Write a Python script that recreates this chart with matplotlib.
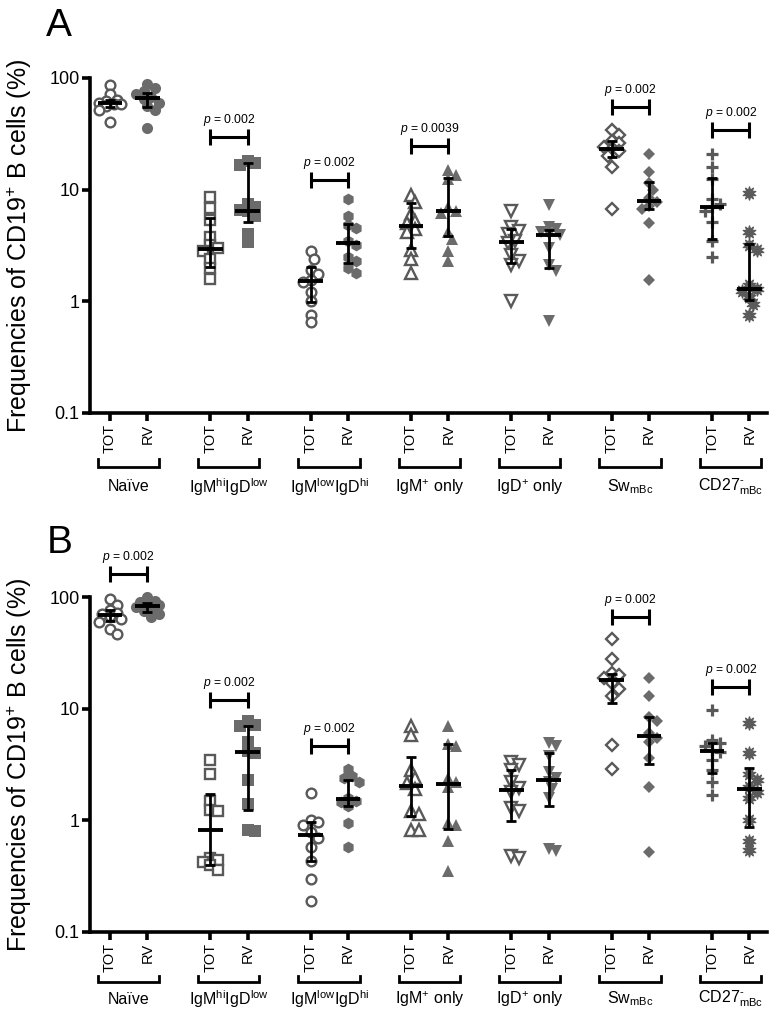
import numpy as np
import matplotlib
matplotlib.use('Agg')
import matplotlib.pyplot as plt
from matplotlib.transforms import blended_transform_factory

plt.rcParams['font.family'] = ['Liberation Sans', 'DejaVu Sans']
plt.rcParams['mathtext.fontset'] = 'custom'
plt.rcParams['mathtext.rm'] = 'Liberation Sans'
plt.rcParams['mathtext.it'] = 'Liberation Sans:italic'
plt.rcParams['mathtext.bf'] = 'Liberation Sans:bold'

# ---------------- data ----------------
groups = ['Naïve', r'IgM$^{\rm hi}$IgD$^{\rm low}$', r'IgM$^{\rm low}$IgD$^{\rm hi}$',
          r'IgM$^{+}$ only', r'IgD$^{+}$ only', r'Sw$_{\rm mBc}$', r'CD27$^{\text{-}}_{\rm mBc}$']
conditions = ['TOT', 'RV']

# Panel A
a_tot_values = [
    [86, 72, 64, 62, 60, 59, 58, 56, 52, 40],
    [8.6, 6.8, 5.4, 3.8, 3.2, 3.0, 2.8, 2.4, 2.0, 1.6],
    [2.8, 2.4, 1.9, 1.75, 1.55, 1.5, 1.2, 1.0, 0.76, 0.65],
    [9.0, 7.8, 6.0, 5.2, 5.0, 4.4, 4.2, 2.9, 2.4, 1.8],
    [6.5, 4.6, 4.3, 4.0, 3.5, 3.3, 2.6, 2.3, 2.1, 1.0],
    [34, 31, 27, 26, 24, 23, 22, 20, 16, 6.7],
    [21, 16, 12.5, 8.3, 7.5, 7.0, 6.5, 5.1, 3.5, 2.5],
]
a_rv_values = [
    [88, 82, 76, 72, 68, 65, 60, 56, 52, 36],
    [18, 17.5, 16.5, 7.5, 7.0, 6.6, 6.4, 5.8, 4.0, 3.4],
    [8.2, 5.8, 4.8, 4.5, 3.5, 3.2, 2.5, 2.3, 2.0, 1.8],
    [15, 13.5, 12.5, 7.0, 6.5, 6.2, 4.2, 3.6, 2.8, 2.3],
    [7.3, 4.6, 4.4, 4.2, 4.0, 3.9, 3.0, 2.1, 1.85, 0.66],
    [21, 14.5, 11.5, 10, 8.5, 7.8, 7.2, 6.7, 5.0, 1.55],
    [9.3, 4.2, 3.2, 2.9, 1.4, 1.3, 1.25, 1.1, 0.95, 0.76],
]
a_tot_median = [59.7, 2.93, 1.53, 4.73, 3.4, 23.1, 6.96]
a_tot_q1 = [55, 2.05, 0.98, 3.0, 2.2, 19.8, 3.6]
a_tot_q3 = [63, 5.56, 2.05, 7.55, 4.4, 27, 12.6]
a_rv_median = [66.6, 6.49, 3.36, 6.45, 3.93, 7.98, 1.30]
a_rv_q1 = [55, 5.1, 2.22, 3.85, 1.98, 6.7, 1.03]
a_rv_q3 = [73, 17.2, 4.88, 12.6, 4.36, 11.6, 3.25]
a_sig_groups = [1, 2, 3, 5, 6]
a_sig_y = [29.6, 12.2, 24.6, 55, 34.2]
a_sig_p = ['0.002', '0.002', '0.0039', '0.002', '0.002']

# Panel B
b_tot_values = [
    [95, 85, 76, 72, 70, 68, 63, 60, 52, 47],
    [3.5, 2.6, 1.5, 1.25, 1.2, 0.46, 0.44, 0.42, 0.40, 0.36],
    [1.75, 1.0, 0.97, 0.9, 0.78, 0.70, 0.58, 0.43, 0.30, 0.19],
    [7.0, 5.8, 2.8, 2.4, 2.15, 1.9, 1.2, 1.15, 0.82, 0.82],
    [3.3, 3.1, 2.8, 2.2, 1.95, 1.8, 1.3, 1.2, 0.48, 0.46],
    [42, 28, 21, 20, 19, 17, 15, 13, 4.7, 2.9],
    [9.7, 5.2, 4.9, 4.6, 4.3, 4.1, 3.5, 2.8, 2.2, 1.7],
]
b_rv_values = [
    [99, 92, 90, 87, 84, 82, 80, 75, 70, 66],
    [7.8, 7.2, 7.0, 5.0, 4.2, 4.0, 2.3, 1.4, 0.82, 0.80],
    [2.9, 2.5, 2.4, 2.2, 1.6, 1.5, 1.45, 1.35, 0.95, 0.58],
    [7.0, 4.8, 4.6, 2.4, 2.2, 2.0, 0.95, 0.9, 0.65, 0.35],
    [4.9, 4.6, 3.8, 2.7, 2.4, 2.2, 1.9, 1.6, 0.55, 0.53],
    [19, 13, 8.5, 7.8, 6.0, 5.5, 5.0, 3.6, 2.0, 0.52],
    [7.5, 4.0, 2.6, 2.3, 2.0, 1.8, 1.6, 1.0, 0.65, 0.54],
]
b_tot_median = [69, 0.82, 0.74, 2.03, 1.87, 18.1, 4.2]
b_tot_q1 = [61.4, 0.40, 0.43, 1.09, 0.99, 11.3, 2.63]
b_tot_q3 = [76, 1.72, 0.97, 3.66, 2.83, 20.5, 4.9]
b_rv_median = [83, 4.12, 1.55, 2.12, 2.3, 5.7, 1.9]
b_rv_q1 = [73.9, 1.24, 1.34, 0.83, 1.34, 3.2, 0.88]
b_rv_q3 = [87.8, 7.0, 2.29, 4.8, 4.0, 8.5, 2.93]
b_sig_groups = [0, 1, 2, 5, 6]
b_sig_y = [160, 12.0, 4.64, 66.6, 15.7]
b_sig_p = ['0.002', '0.002', '0.002', '0.002', '0.002']

ytick_vals = [0.1, 1, 10, 100]
ytick_labels = ['0.1', '1', '10', '100']

# ---------------- styles ----------------
EDGE = '#595959'
FILL = '#6b6b6b'
tot_styles = [
    dict(marker='o', ms=7, mfc='white', mec=EDGE, mew=1.7),
    dict(marker='s', ms=7, mfc='white', mec=EDGE, mew=1.7),
    dict(marker='o', ms=7, mfc='white', mec=EDGE, mew=1.7),
    dict(marker='^', ms=8, mfc='white', mec=EDGE, mew=1.7),
    dict(marker='v', ms=8, mfc='white', mec=EDGE, mew=1.7),
    dict(marker='D', ms=6, mfc='white', mec=EDGE, mew=1.7),
    dict(marker='+', ms=9, mfc=EDGE, mec=EDGE, mew=2.3),
]
rv_styles = [
    dict(marker='o', ms=8, mfc=FILL, mec=FILL, mew=0),
    dict(marker='s', ms=8, mfc=FILL, mec=FILL, mew=0),
    dict(marker='h', ms=8.5, mfc=FILL, mec=FILL, mew=0),
    dict(marker='^', ms=9, mfc=FILL, mec=FILL, mew=0),
    dict(marker='v', ms=9, mfc=FILL, mec=FILL, mew=0),
    dict(marker='D', ms=6.5, mfc=FILL, mec=FILL, mew=0),
    dict(marker=(10, 1, 0), ms=10, mfc='#5a5a5a', mec='#5a5a5a', mew=0.8),
]

W, H = 782, 1015
DPI = 100
fig = plt.figure(figsize=(W / DPI, H / DPI), dpi=DPI)

GSTEP = 2.69
XLIM = (-0.536, 17.61)

panels = [
    dict(rect=(90, 78, 767, 413), tv=a_tot_values, rv=a_rv_values,
         tm=a_tot_median, tq1=a_tot_q1, tq3=a_tot_q3,
         rm=a_rv_median, rq1=a_rv_q1, rq3=a_rv_q3,
         sg=a_sig_groups, sy=a_sig_y, sp=a_sig_p,
         br=(54.5, 46.5, 74), letter='A', lpos=(46, 36)),
    dict(rect=(90, 597, 767, 932), tv=b_tot_values, rv=b_rv_values,
         tm=b_tot_median, tq1=b_tot_q1, tq3=b_tot_q3,
         rm=b_rv_median, rq1=b_rv_q1, rq3=b_rv_q3,
         sg=b_sig_groups, sy=b_sig_y, sp=b_sig_p,
         br=(50, 43.5, 67), letter='B', lpos=(47, 553)),
]


def swarm(vals, d_px, ppu, ppd, max_off=13.0):
    """Simple beeswarm layout in pixel space, limited width."""
    vals = np.asarray(vals, float)
    ys = np.log10(vals) * ppd
    order = np.argsort(-vals)
    placed = []
    offs = np.zeros(len(vals))
    step = d_px * 0.5
    cands = [0.0]
    k = 1
    while k * step <= max_off:
        cands += [k * step, -k * step]
        k += 1
    for i in order:
        best, best_cost = 0.0, None
        for c in cands:
            cost = 0.0
            for (px, py) in placed:
                dd = np.hypot(c - px, ys[i] - py)
                if dd < d_px:
                    cost += (d_px - dd)
            if best_cost is None or cost < best_cost - 1e-9:
                best, best_cost = c, cost
            if cost == 0:
                break
        offs[i] = best
        placed.append((best, ys[i]))
    return offs / ppu


for P in panels:
    x0, y0, x1, y1 = P['rect']
    ax = fig.add_axes([x0 / W, 1 - y1 / H, (x1 - x0) / W, (y1 - y0) / H])
    ax.set_yscale('log')
    ax.set_ylim(0.1, 100)
    ax.set_xlim(*XLIM)
    ax_w_px = x1 - x0
    ax_h_px = y1 - y0
    ppu = ax_w_px / (XLIM[1] - XLIM[0])
    ppd = ax_h_px / 3.0

    tot_x = [g * GSTEP for g in range(len(groups))]
    rv_x = [g * GSTEP + 1 for g in range(len(groups))]

    for g in range(len(groups)):
        for xs, vals, st, med, q1, q3 in [
            (tot_x[g], P['tv'][g], tot_styles[g], P['tm'][g], P['tq1'][g], P['tq3'][g]),
            (rv_x[g], P['rv'][g], rv_styles[g], P['rm'][g], P['rq1'][g], P['rq3'][g]),
        ]:
            offs = swarm(vals, 7.5, ppu, ppd)
            ax.plot(xs + offs, vals, linestyle='none', zorder=2, clip_on=False, **st)
            ax.errorbar([xs], [med], yerr=[[med - q1], [q3 - med]], fmt='none',
                        ecolor='black', elinewidth=2.0, capsize=3.6, capthick=2.0,
                        zorder=4)
            ax.plot([xs - 0.33, xs + 0.33], [med, med], color='black', lw=2.8,
                    solid_capstyle='butt', zorder=5)

    # significance brackets
    for g, yv, p in zip(P['sg'], P['sy'], P['sp']):
        xa, xb = tot_x[g], rv_x[g]
        ax.plot([xa, xb], [yv, yv], color='black', lw=2.2, clip_on=False,
                solid_capstyle='butt', zorder=5)
        ax.plot([xa, xb], [yv, yv], linestyle='none', marker='|', ms=11,
                mew=2.2, color='black', clip_on=False, zorder=5)
        ax.annotate(r'$p$ = ' + p, xy=((xa + xb) / 2, yv), xytext=(0, 10),
                    textcoords='offset points', ha='center', va='baseline',
                    fontsize=8.7, annotation_clip=False)

    # axes styling
    for s in ['top', 'right']:
        ax.spines[s].set_visible(False)
    ax.spines['left'].set_linewidth(2.6)
    ax.spines['bottom'].set_linewidth(2.6)
    ax.set_yticks(ytick_vals)
    ax.set_yticklabels(ytick_labels)
    ax.yaxis.set_minor_locator(matplotlib.ticker.NullLocator())
    ax.tick_params(axis='y', which='major', length=6, width=2.6, labelsize=13, pad=1.5)
    ticks_x = []
    tick_lbls = []
    for g in range(len(groups)):
        ticks_x += [tot_x[g], rv_x[g]]
        tick_lbls += conditions
    ax.set_xticks(ticks_x)
    ax.set_xticklabels(tick_lbls, rotation=90, fontsize=10.5)
    ax.tick_params(axis='x', which='major', length=6, width=2.6, pad=2)

    ax.set_ylabel(r'Frequencies of CD19$^{+}$ B cells (%)', fontsize=18)
    ax.yaxis.set_label_coords(-0.082, 0.5)

    # group brackets beneath tick labels
    trans = blended_transform_factory(ax.transData, ax.transAxes)
    bh, be, bl = P['br']
    for g in range(len(groups)):
        xa = tot_x[g] - 0.33
        xb = rv_x[g] + 0.31
        yh = -bh / ax_h_px
        ye = -be / ax_h_px
        ax.plot([xa, xa, xb, xb], [ye, yh, yh, ye], color='black', lw=2.0,
                transform=trans, clip_on=False, solid_joinstyle='miter')
        ax.text((tot_x[g] + rv_x[g]) / 2, -bl / ax_h_px, groups[g], transform=trans,
                ha='center', va='center', fontsize=11.5)

    lx, ly = P['lpos']
    fig.text(lx / W, 1 - ly / H, P['letter'], fontsize=28, ha='left', va='baseline')

fig.savefig('out.png', dpi=DPI)
